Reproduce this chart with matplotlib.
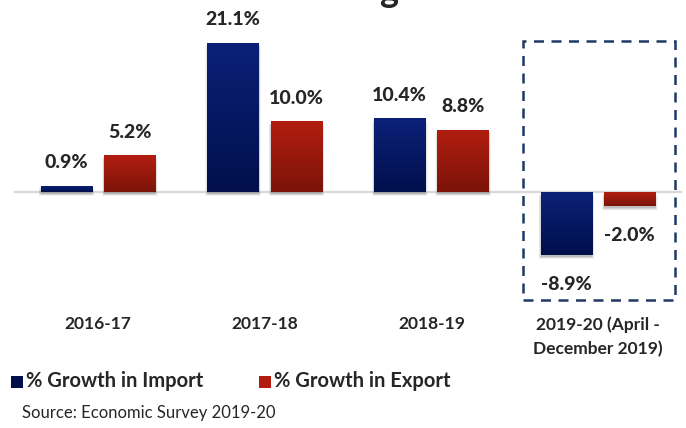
import matplotlib
matplotlib.use("Agg")
import matplotlib.pyplot as plt
import numpy as np
from matplotlib.patches import Rectangle
from matplotlib.colors import LinearSegmentedColormap
import matplotlib.transforms as mtransforms

categories = ["2016-17", "2017-18", "2018-19", "2019-20 (April -\nDecember 2019)"]
imports = [0.9, 21.1, 10.4, -8.9]
exports = [5.2, 10.0, 8.8, -2.0]
series_names = ["% Growth in Import", "% Growth in Export"]
source = "Source: Economic Survey 2019-20"

W, H = 686, 428
fig = plt.figure(figsize=(W / 100, H / 100), dpi=100)
ax = fig.add_axes([0, 0, 1, 1])
ax.set_xlim(-0.588, 3.527)
ax.set_ylim(-33.38, 27.16)
ax.axis("off")

FONT = "Lato"
TXT = "#262626"
navy_top, navy_bot = "#0b2178", "#010f4c"
red_top, red_bot = "#b21d10", "#7c1409"

x = np.arange(len(categories))
off, w = 0.19, 0.31

def fy(pix):
    return 1 - pix / H

blend = mtransforms.blended_transform_factory(ax.transData, fig.transFigure)

# baseline
ax.plot([-0.5, 3.5], [0, 0], color="#d9d9d9", lw=1.6, zorder=1)

def grad_bars(xs, vals, ctop, cbot):
    bars = ax.bar(xs, vals, width=w, color=ctop, zorder=3)
    cmap = LinearSegmentedColormap.from_list("g", [cbot, ctop])
    for b in bars:
        x0 = b.get_x(); x1 = x0 + b.get_width()
        y0 = min(b.get_y(), b.get_y() + b.get_height())
        y1 = max(b.get_y(), b.get_y() + b.get_height())
        # shadow
        for k, a in enumerate([0.10, 0.08, 0.06, 0.04]):
            sh = Rectangle((x0 - 0.004 * k, y0 - 0.25 - 0.12 * k), (x1 - x0) + 0.008 * k,
                           (y1 - y0) + 0.1, facecolor="black", alpha=a, lw=0, zorder=2)
            ax.add_patch(sh)
        grad = np.linspace(0, 1, 64).reshape(-1, 1)
        im = ax.imshow(grad, extent=(x0, x1, y0, y1), origin="lower", cmap=cmap,
                       aspect="auto", zorder=4)
        im.set_clip_path(b)
    return bars

grad_bars(x - off, imports, navy_top, navy_bot)
grad_bars(x + off, exports, red_top, red_bot)
ax.set_xlim(-0.588, 3.527)
ax.set_ylim(-33.38, 27.16)

def label(xc, v):
    if v >= 0:
        ax.annotate(f"{v:.1f}%", (xc, v), xytext=(0, 10.5), textcoords="offset points",
                    ha="center", va="bottom", fontsize=14, fontweight="black",
                    color=TXT, family=FONT, zorder=5)
    else:
        ax.annotate(f"{v:.1f}%", (xc, v), xytext=(0, -15), textcoords="offset points",
                    ha="center", va="top", fontsize=14, fontweight="black",
                    color=TXT, family=FONT, zorder=5)

for i in range(len(categories)):
    label(x[i] - off, imports[i])
    label(x[i] + off, exports[i])

# category labels
for i, c in enumerate(categories):
    ax.text(x[i], fy(316), c, transform=blend, ha="center", va="top",
            fontsize=12.5, fontweight="bold", color=TXT, family=FONT, linespacing=1.6)

# dashed highlight box
bx0, bx1 = 523, 675
ax.add_patch(Rectangle((bx0 / W, fy(300)), (bx1 - bx0) / W, (300 - 41) / H,
                       transform=fig.transFigure, fill=False, edgecolor="#1f3864",
                       lw=1.8, linestyle=(0, (4, 3)), zorder=6))

# legend
def legend_item(px, color, text):
    fig.patches.append(Rectangle((px / W, fy(388)), 12 / W, 12 / H, transform=fig.transFigure,
                                 facecolor=color, edgecolor="none"))
    fig.text((px + 15) / W, fy(381), text, ha="left", va="center", fontsize=14.5,
             fontweight="bold", color=TXT, family=FONT)

legend_item(11, navy_bot, series_names[0])
legend_item(259, red_top, series_names[1])

fig.text(22 / W, fy(413), source, ha="left", va="center", fontsize=12,
         color=TXT, family=FONT)

# partially visible title descender (title is cut off in the reference)
fig.text(389 / W, fy(-9), "g", ha="center", va="center", fontsize=26,
         fontweight="bold", color=TXT, family=FONT)

fig.savefig("out.png", dpi=100)
